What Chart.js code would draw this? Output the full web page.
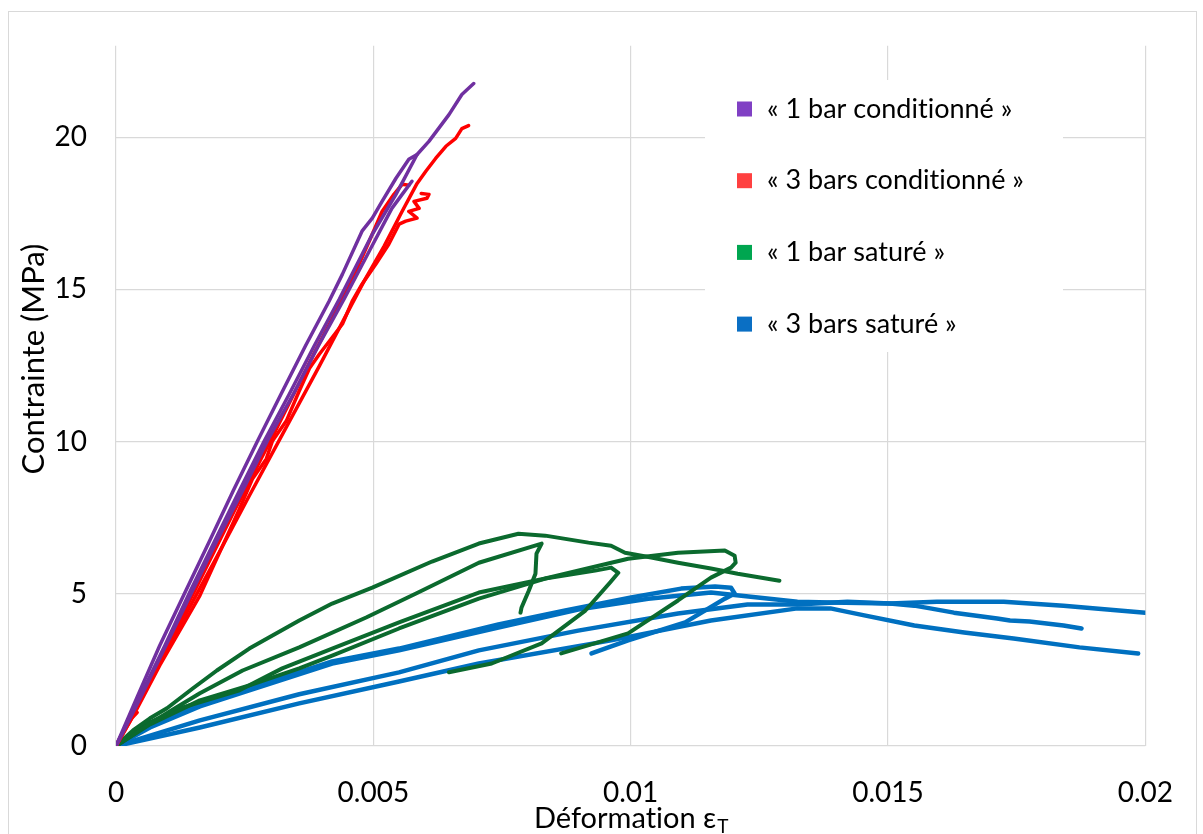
<!DOCTYPE html>
<html lang="fr">
<head>
<meta charset="utf-8">
<title>Contrainte - déformation</title>
<script src="https://cdn.jsdelivr.net/npm/chart.js@4.4.1/dist/chart.umd.min.js"></script>
<style>
    html, body { margin: 0; padding: 0; background: #fff; }
    #wrap { position: relative; width: 1203px; height: 834px; overflow: hidden; }
    #frame { position: absolute; left: 8px; top: 11px; width: 1189px; height: 840px; border: 1.5px solid #d9d9d9; box-sizing: border-box; }
    canvas { position: absolute; left: 0; top: 0; }
</style>
</head>
<body>
<div id="wrap">
    <div id="frame"></div>
    <canvas id="chart" width="1203" height="834"></canvas>
</div>
<script>
// Series names (legend order)
const seriesNames = ['« 1 bar conditionné »', '« 3 bars conditionné »', '« 1 bar saturé »', '« 3 bars saturé »'];

// Axis ticks
const xTicks = [0, 0.005, 0.01, 0.015, 0.02];
const xTickLabels = ['0', '0.005', '0.01', '0.015', '0.02'];
const yTicks = [0, 5, 10, 15, 20];
const yTickLabels = ['0', '5', '10', '15', '20'];

// « 1 bar conditionné » - three tests (strain, stress in MPa)
const p1Strain = [0, 0.00046, 0.00095, 0.00143, 0.00192, 0.0024, 0.00288, 0.00337, 0.00385, 0.00434, 0.00498, 0.00544, 0.00585, 0.00608, 0.00647, 0.00672, 0.00695];
const p1Stress = [0, 1.6, 3.3, 5.04, 6.74, 8.39, 10.02, 11.57, 13.14, 14.68, 16.81, 18.12, 19.43, 19.86, 20.74, 21.4, 21.76];
const p2Strain = [0, 0.00041, 0.00085, 0.00134, 0.00182, 0.00228, 0.00275, 0.00321, 0.00368, 0.00414, 0.0044, 0.00478, 0.00498, 0.00517, 0.00544, 0.00569, 0.00585];
const p2Stress = [0, 1.6, 3.3, 5.04, 6.74, 8.39, 10.02, 11.57, 13.14, 14.61, 15.5, 16.91, 17.34, 17.89, 18.65, 19.27, 19.43];
const p3Strain = [0, 0.00048, 0.00097, 0.00147, 0.00196, 0.00246, 0.00294, 0.00345, 0.00393, 0.00443, 0.00492, 0.00536, 0.00556, 0.00575];
const p3Stress = [0, 1.6, 3.3, 5.04, 6.74, 8.39, 10.02, 11.57, 13.14, 14.68, 16.25, 17.66, 18.12, 18.55];

// « 3 bars conditionné »
const r1Strain = [0, 0.00056, 0.00124, 0.00192, 0.00259, 0.00327, 0.00395, 0.00443, 0.00482, 0.00521, 0.00554, 0.00585, 0.00602, 0.00621, 0.00641, 0.0066, 0.00672, 0.00685];
const r1Stress = [0, 1.83, 3.96, 6.09, 8.22, 10.35, 12.48, 14.02, 15.27, 16.42, 17.5, 18.48, 18.88, 19.3, 19.7, 19.96, 20.28, 20.38];
const r2Strain = [0, 0.00037, 0.00085, 0.00163, 0.0024, 0.00265, 0.00292, 0.00304, 0.00331, 0.00356, 0.00376, 0.00395, 0.0044, 0.00459, 0.00478, 0.00505, 0.0053, 0.0055, 0.00563, 0.00585, 0.00569, 0.00589, 0.00579, 0.00604, 0.00608, 0.00593];
const r2Stress = [0, 1.1, 2.65, 4.94, 7.79, 8.77, 9.43, 10.02, 10.68, 11.66, 12.41, 12.87, 13.86, 14.61, 15.17, 15.83, 16.48, 17.14, 17.24, 17.34, 17.56, 17.66, 17.89, 17.99, 18.12, 18.15];
const r3Strain = [0, 0.00076, 0.00153, 0.0023, 0.00308, 0.00385, 0.00453, 0.00492, 0.00517, 0.0054, 0.00556, 0.00569];
const r3Stress = [0, 2.55, 5.1, 7.73, 10.29, 12.9, 15.1, 16.58, 17.56, 18.12, 18.45, 18.42];
const r4Strain = [0, 0.0003, 0.00041];
const r4Stress = [0, 0.9, 1.1];

// « 1 bar saturé »
const g1Strain = [0, 0.00033, 0.00066, 0.00099, 0.00149, 0.00196, 0.00259, 0.00356, 0.0042, 0.00498, 0.00614, 0.00705, 0.00782, 0.00834, 0.00918, 0.00962, 0.00989, 0.0104, 0.01092, 0.01156, 0.01208, 0.01289];
const g1Stress = [0, 0.51, 0.91, 1.24, 1.89, 2.48, 3.2, 4.12, 4.68, 5.2, 6.06, 6.65, 6.97, 6.91, 6.68, 6.58, 6.35, 6.19, 6.02, 5.83, 5.66, 5.43];
const g2Strain = [0, 0.00066, 0.00118, 0.00163, 0.00246, 0.00356, 0.00486, 0.00583, 0.00705, 0.00827, 0.00817, 0.00815, 0.00802, 0.00788, 0.00786];
const g2Stress = [0, 0.74, 1.27, 1.73, 2.48, 3.24, 4.22, 5.01, 6.02, 6.65, 6.32, 5.66, 5.1, 4.55, 4.38];
const g3Strain = [0, 0.00066, 0.0013, 0.0024, 0.00323, 0.0042, 0.0055, 0.00705, 0.00834, 0.00931, 0.00962, 0.00976, 0.0096, 0.00912, 0.00827, 0.0073, 0.00647];
const g3Stress = [0, 0.78, 1.27, 1.83, 2.55, 3.2, 4.06, 5.04, 5.5, 5.76, 5.86, 5.69, 5.37, 4.45, 3.37, 2.71, 2.42];
const g4Strain = [0, 0.00066, 0.00163, 0.00259, 0.00356, 0.0042, 0.0055, 0.00705, 0.00834, 0.00995, 0.01092, 0.01183, 0.01202, 0.01204, 0.01195, 0.01156, 0.01092, 0.00995, 0.00865];
const g4Stress = [0, 0.71, 1.5, 1.99, 2.55, 2.97, 3.86, 4.84, 5.5, 6.15, 6.35, 6.42, 6.25, 6.02, 5.86, 5.53, 4.78, 3.7, 3.04];

// « 3 bars saturé »
const b1Strain = [0, 0.00066, 0.00163, 0.00259, 0.0042, 0.0055, 0.00743, 0.00873, 0.01001, 0.01098, 0.01164, 0.01195, 0.01202, 0.01183, 0.01106, 0.00995, 0.00924];
const b1Stress = [0, 0.68, 1.37, 1.89, 2.78, 3.2, 3.99, 4.45, 4.88, 5.17, 5.24, 5.2, 5.01, 4.84, 4.06, 3.47, 3.04];
const b2Strain = [0, 0.00066, 0.00163, 0.00259, 0.0042, 0.0055, 0.00743, 0.00898, 0.01034, 0.01156, 0.01247, 0.01324, 0.01388, 0.01504, 0.01595, 0.01725, 0.01841, 0.02];
const b2Stress = [0, 0.61, 1.3, 1.83, 2.71, 3.14, 3.89, 4.48, 4.84, 5.04, 4.88, 4.74, 4.71, 4.68, 4.74, 4.74, 4.61, 4.38];
const b3Strain = [0, 0.00163, 0.00356, 0.0055, 0.00705, 0.00898, 0.01092, 0.01227, 0.01324, 0.01421, 0.01504, 0.01551, 0.01582, 0.01628, 0.01712, 0.01737, 0.01775, 0.01841, 0.01876];
const b3Stress = [0, 0.84, 1.7, 2.42, 3.14, 3.79, 4.35, 4.65, 4.65, 4.74, 4.68, 4.61, 4.52, 4.38, 4.19, 4.12, 4.09, 3.96, 3.86];
const b4Strain = [0, 0.00163, 0.00356, 0.0055, 0.00705, 0.00962, 0.01156, 0.01324, 0.01388, 0.01454, 0.01551, 0.01648, 0.01744, 0.01872, 0.01986];
const b4Stress = [0, 0.61, 1.4, 2.12, 2.71, 3.47, 4.12, 4.52, 4.52, 4.29, 3.96, 3.73, 3.53, 3.24, 3.04];

// Styling
const lineColors = ['#7030A0', '#FF0000', '#0B6A2E', '#0070C0'];
const legendColors = ['#8040C4', '#FF4040', '#00A650', '#0A6FC4'];
const lineWidths = [3.5, 3.5, 4, 4.5];
const FONT = 'Lato, "Open Sans", sans-serif';

// Each test curve with its series index
const curves = [
    [0, p1Strain, p1Stress], [0, p2Strain, p2Stress], [0, p3Strain, p3Stress],
    [1, r1Strain, r1Stress], [1, r2Strain, r2Stress], [1, r3Strain, r3Stress], [1, r4Strain, r4Stress],
    [2, g1Strain, g1Stress], [2, g2Strain, g2Stress], [2, g3Strain, g3Stress], [2, g4Strain, g4Stress],
    [3, b1Strain, b1Stress], [3, b2Strain, b2Stress], [3, b3Strain, b3Stress], [3, b4Strain, b4Stress]
];

const datasets = curves.map(([group, xs, ys]) => ({
    label: seriesNames[group],
    data: xs.map((x, i) => ({ x: x, y: ys[i] })),
    borderColor: lineColors[group],
    backgroundColor: legendColors[group],
    borderWidth: lineWidths[group],
    showLine: true,
    pointRadius: 0,
    tension: 0,
    fill: false,
    borderJoinStyle: 'round',
    borderCapStyle: 'round'
}));

// Legend drawn inside the plot area on a white box
const insideLegend = {
    id: 'insideLegend',
    beforeDatasetsDraw(chart) {
        const ctx = chart.ctx;
        ctx.save();
        ctx.fillStyle = '#ffffff';
        ctx.fillRect(705, 80, 358, 272);
        ctx.restore();
    },
    afterDatasetsDraw(chart) {
        const ctx = chart.ctx;
        ctx.save();
        ctx.textRendering = 'optimizeSpeed'; // no "ti" ligature
        ctx.font = '27px ' + FONT;
        ctx.textBaseline = 'middle';
        ctx.textAlign = 'left';
        seriesNames.forEach((name, i) => {
            const y = 109 + i * 71.7;
            ctx.fillStyle = legendColors[i];
            ctx.fillRect(737, y - 7.5, 15, 15);
            ctx.fillStyle = '#000';
            ctx.fillText(name, 767, y);
        });
        ctx.restore();
    }
};

// Axis titles (x title has a subscript)
const axisTitles = {
    id: 'axisTitles',
    afterDraw(chart) {
        const ctx = chart.ctx;
        const area = chart.chartArea;
        ctx.save();
        ctx.textRendering = 'optimizeSpeed';
        ctx.fillStyle = '#000';
        ctx.textBaseline = 'alphabetic';
        ctx.textAlign = 'left';
        const main = 'Déformation ε';
        const sub = 'T';
        ctx.font = '29px ' + FONT;
        const w1 = ctx.measureText(main).width;
        ctx.font = '19px ' + FONT;
        const w2 = ctx.measureText(sub).width;
        const x0 = (area.left + area.right) / 2 - (w1 + w2) / 2;
        ctx.font = '29px ' + FONT;
        ctx.fillText(main, x0, 828);
        ctx.font = '19px ' + FONT;
        ctx.fillText(sub, x0 + w1 + 1, 833);

        ctx.translate(34, 359);
        ctx.rotate(-Math.PI / 2);
        ctx.font = '31px ' + FONT;
        ctx.textAlign = 'center';
        ctx.textBaseline = 'middle';
        ctx.fillText('Contrainte (MPa)', 0, 0);
        ctx.restore();
    }
};

new Chart(document.getElementById('chart'), {
    type: 'scatter',
    data: { datasets: datasets },
    plugins: [insideLegend, axisTitles],
    options: {
        responsive: false,
        animation: false,
        devicePixelRatio: 1,
        layout: { padding: { top: 43, right: 54, left: 0, bottom: 0 } },
        plugins: {
            legend: { display: false },
            tooltip: { enabled: false }
        },
        scales: {
            x: {
                type: 'linear',
                min: 0,
                max: 0.02,
                afterBuildTicks: scale => { scale.ticks = xTicks.map(v => ({ value: v })); },
                afterFit: scale => { scale.height = 88; },
                grid: { color: '#d9d9d9', lineWidth: 1.2, drawTicks: false },
                border: { display: false },
                ticks: {
                    padding: 30,
                    color: '#000',
                    font: { family: FONT, size: 28 },
                    maxRotation: 0,
                    autoSkip: false,
                    callback: (value, index) => xTickLabels[index]
                }
            },
            y: {
                type: 'linear',
                min: 0,
                max: 23,
                afterBuildTicks: scale => { scale.ticks = yTicks.map(v => ({ value: v })); },
                afterFit: scale => { scale.width = 116; },
                grid: { color: '#d9d9d9', lineWidth: 1.2, drawTicks: false },
                border: { display: false },
                ticks: {
                    padding: 29,
                    color: '#000',
                    font: { family: FONT, size: 28 },
                    autoSkip: false,
                    callback: (value, index) => yTickLabels[index]
                }
            }
        }
    }
});
</script>
</body>
</html>
